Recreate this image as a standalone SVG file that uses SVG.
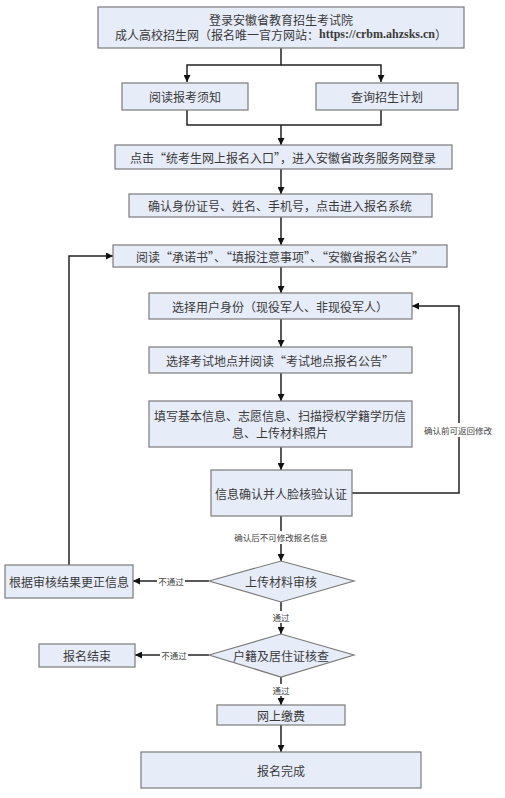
<svg xmlns="http://www.w3.org/2000/svg" width="505" height="798" viewBox="0 0 505 798">
<defs>
<style>
.box{fill:#e7edf8;stroke:#7a7a7a;stroke-width:1.2}
.t{font-family:"Noto Sans CJK SC","Liberation Serif",sans-serif;font-size:12px;fill:#3a3a3a;text-anchor:middle;dominant-baseline:central}
.s{font-family:"Noto Sans CJK SC","Liberation Serif",sans-serif;font-size:8.5px;fill:#444;text-anchor:middle;dominant-baseline:central}
.u{font-family:"Liberation Serif",serif;font-weight:bold}
.c{fill:none;stroke:#222;stroke-width:1.5}
.lb{fill:#fff}
</style>
<marker id="a" viewBox="0 0 10 10" refX="10" refY="5" markerWidth="7" markerHeight="7" orient="auto" markerUnits="userSpaceOnUse">
<path d="M0,0 L10,5 L0,10 z" fill="#111"/>
</marker>
</defs>
<rect width="505" height="798" fill="#fff"/>
<g id="connectors">
<path class="c" d="M281,48 V65 H187 V82" marker-end="url(#a)"/>
<path class="c" d="M281,65 H381 V82" marker-end="url(#a)"/>
<path class="c" d="M187,110 V125 H381 V110"/>
<path class="c" d="M281,125 V145" marker-end="url(#a)"/>
<path class="c" d="M281,169 V194" marker-end="url(#a)"/>
<path class="c" d="M281,217 V245" marker-end="url(#a)"/>
<path class="c" d="M281,267 V293" marker-end="url(#a)"/>
<path class="c" d="M281,319 V347" marker-end="url(#a)"/>
<path class="c" d="M281,373 V401" marker-end="url(#a)"/>
<path class="c" d="M281,447 V470" marker-end="url(#a)"/>
<path class="c" d="M352,493 H459 V306 H412" marker-end="url(#a)"/>
<path class="c" d="M281,516 V561" marker-end="url(#a)"/>
<path class="c" d="M209,581 H133" marker-end="url(#a)"/>
<path class="c" d="M69,565 V256 H113" marker-end="url(#a)"/>
<path class="c" d="M281,602 V634" marker-end="url(#a)"/>
<path class="c" d="M209,655 H135" marker-end="url(#a)"/>
<path class="c" d="M281,677 V705" marker-end="url(#a)"/>
<path class="c" d="M281,725 V752" marker-end="url(#a)"/>
<rect class="lb" x="422" y="423" width="72" height="14"/>
<text class="s" x="458" y="430">确认前可返回修改</text>
<rect class="lb" x="231" y="531" width="100" height="13"/>
<text class="s" x="281" y="537">确认后不可修改报名信息</text>
<rect class="lb" x="157" y="575" width="28" height="12"/>
<text class="s" x="171" y="581">不通过</text>
<rect class="lb" x="269" y="611" width="24" height="12"/>
<text class="s" x="281" y="617">通过</text>
<rect class="lb" x="160" y="649" width="28" height="12"/>
<text class="s" x="174" y="655">不通过</text>
<rect class="lb" x="269" y="684" width="24" height="12"/>
<text class="s" x="281" y="690">通过</text>
</g>
<g id="n1"><rect class="box" x="98" y="7" width="366" height="41"/>
<text class="t" x="281" y="19">登录安徽省教育招生考试院</text>
<text class="t" x="281" y="34">成人高校招生网（报名唯一官方网站：<tspan class="u">https://crbm.ahzsks.cn</tspan>）</text></g>
<g id="n2"><rect class="box" x="122" y="83" width="126" height="27"/><text class="t" x="185" y="96.5">阅读报考须知</text></g>
<g id="n3"><rect class="box" x="316" y="83" width="142" height="27"/><text class="t" x="387" y="96.5">查询招生计划</text></g>
<g id="n4"><rect class="box" x="115" y="145" width="337" height="24"/><text class="t" x="283" y="157">点击“统考生网上报名入口”，进入安徽省政务服务网登录</text></g>
<g id="n5"><rect class="box" x="129" y="194" width="303" height="23"/><text class="t" x="280" y="205.5">确认身份证号、姓名、手机号，点击进入报名系统</text></g>
<g id="n6"><rect class="box" x="113" y="245" width="334" height="22"/><text class="t" x="280" y="256">阅读“承诺书”、“填报注意事项”、“安徽省报名公告”</text></g>
<g id="n7"><rect class="box" x="149" y="293" width="263" height="26"/><text class="t" x="280" y="306">选择用户身份（现役军人、非现役军人）</text></g>
<g id="n8"><rect class="box" x="149" y="347" width="263" height="26"/><text class="t" x="280" y="360">选择考试地点并阅读“考试地点报名公告”</text></g>
<g id="n9"><rect class="box" x="149" y="401" width="263" height="46"/>
<text class="t" x="280" y="415">填写基本信息、志愿信息、扫描授权学籍学历信</text>
<text class="t" x="280" y="432">息、上传材料照片</text></g>
<g id="n10"><rect class="box" x="211" y="470" width="141" height="46"/><text class="t" x="281" y="493">信息确认并人脸核验认证</text></g>
<g id="n11"><polygon class="box" points="209,581 281,561 354,581 281,602"/><text class="t" x="281" y="581">上传材料审核</text></g>
<g id="n12"><rect class="box" x="5" y="565" width="128" height="33"/><text class="t" x="69" y="581.5">根据审核结果更正信息</text></g>
<g id="n13"><polygon class="box" points="209,655 281,634 354,655 281,677"/><text class="t" x="281" y="655">户籍及居住证核查</text></g>
<g id="n14"><rect class="box" x="39" y="644" width="96" height="23"/><text class="t" x="87" y="655.5">报名结束</text></g>
<g id="n15"><rect class="box" x="217" y="705" width="128" height="20"/><text class="t" x="281" y="715">网上缴费</text></g>
<g id="n16"><rect class="box" x="141" y="752" width="280" height="36"/><text class="t" x="281" y="770">报名完成</text></g>
</svg>
